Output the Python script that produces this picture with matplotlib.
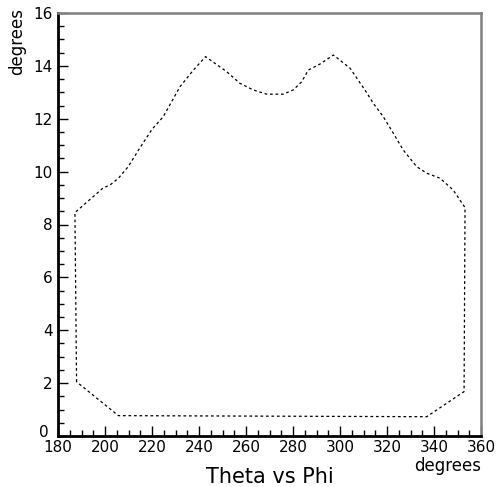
import numpy as np
import matplotlib
matplotlib.use('Agg')
import matplotlib.pyplot as plt
import matplotlib.transforms as mtrans
from matplotlib.ticker import MultipleLocator

# contour points (phi, theta) in degrees
phi = [187.9, 187.2, 199.3, 202.1, 205.7, 209.9, 214.5, 220.0, 224.8, 231.9,
       237.6, 242.8, 251.8, 257.4, 263.1, 268.8, 275.9, 280.1, 283.7, 286.5,
       291.5, 297.2, 304.3, 311.1, 314.2, 318.4, 322.7, 326.9, 332.6, 336.9,
       342.6, 348.2, 353.2, 352.8, 336.9, 205.7, 187.9]
theta = [2.05, 8.45, 9.39, 9.49, 9.75, 10.19, 10.85, 11.6, 12.08, 13.21,
         13.84, 14.35, 13.78, 13.34, 13.09, 12.93, 12.93, 13.09, 13.4, 13.84,
         14.07, 14.41, 13.91, 13.02, 12.58, 12.08, 11.45, 10.82, 10.19, 9.94,
         9.75, 9.30, 8.64, 1.68, 0.73, 0.77, 2.05]

xticks = [180, 200, 220, 240, 260, 280, 300, 320, 340, 360]
yticks = [0, 2, 4, 6, 8, 10, 12, 14, 16]

fig = plt.figure(figsize=(4.97, 4.87), dpi=100)
ax = fig.add_axes([58/497, 1-436/487, 423/497, 423/487])

ax.plot(phi, theta, color='black', lw=0.9, dashes=(2.2, 2.2))

ax.set_xlim(180, 360)
ax.set_ylim(0, 16)
ax.set_xticks(xticks)
ax.set_yticks(yticks)
ax.xaxis.set_minor_locator(MultipleLocator(5))
ax.yaxis.set_minor_locator(MultipleLocator(0.5))
ax.tick_params(which='major', direction='in', length=7, width=1, labelsize=11,
               top=False, right=False, colors='black', pad=4)
ax.tick_params(which='minor', direction='in', length=4, width=1,
               top=False, right=False)
ax.tick_params(axis='x', pad=3)

for s in ['left', 'bottom']:
    ax.spines[s].set_color('black')
    ax.spines[s].set_linewidth(2)
for s in ['top', 'right']:
    ax.spines[s].set_color('#808080')
    ax.spines[s].set_linewidth(1.8)

# nudge the "0" on y a bit up-left so it doesn't sit on "180"
fig.canvas.draw()
lab0 = ax.get_yticklabels()[0]
lab0.set_transform(lab0.get_transform() + mtrans.ScaledTranslation(-4/100, 5/100, fig.dpi_scale_trans))

fig.text(270/497, 1-477/487, 'Theta vs Phi', ha='center', va='center', fontsize=15)
fig.text(481/497, 1-466/487, 'degrees', ha='right', va='center', fontsize=12)
fig.text(17/497, 1-8/487, 'degrees', ha='center', va='top', rotation=90, fontsize=12)

plt.savefig('out.png', dpi=100)
